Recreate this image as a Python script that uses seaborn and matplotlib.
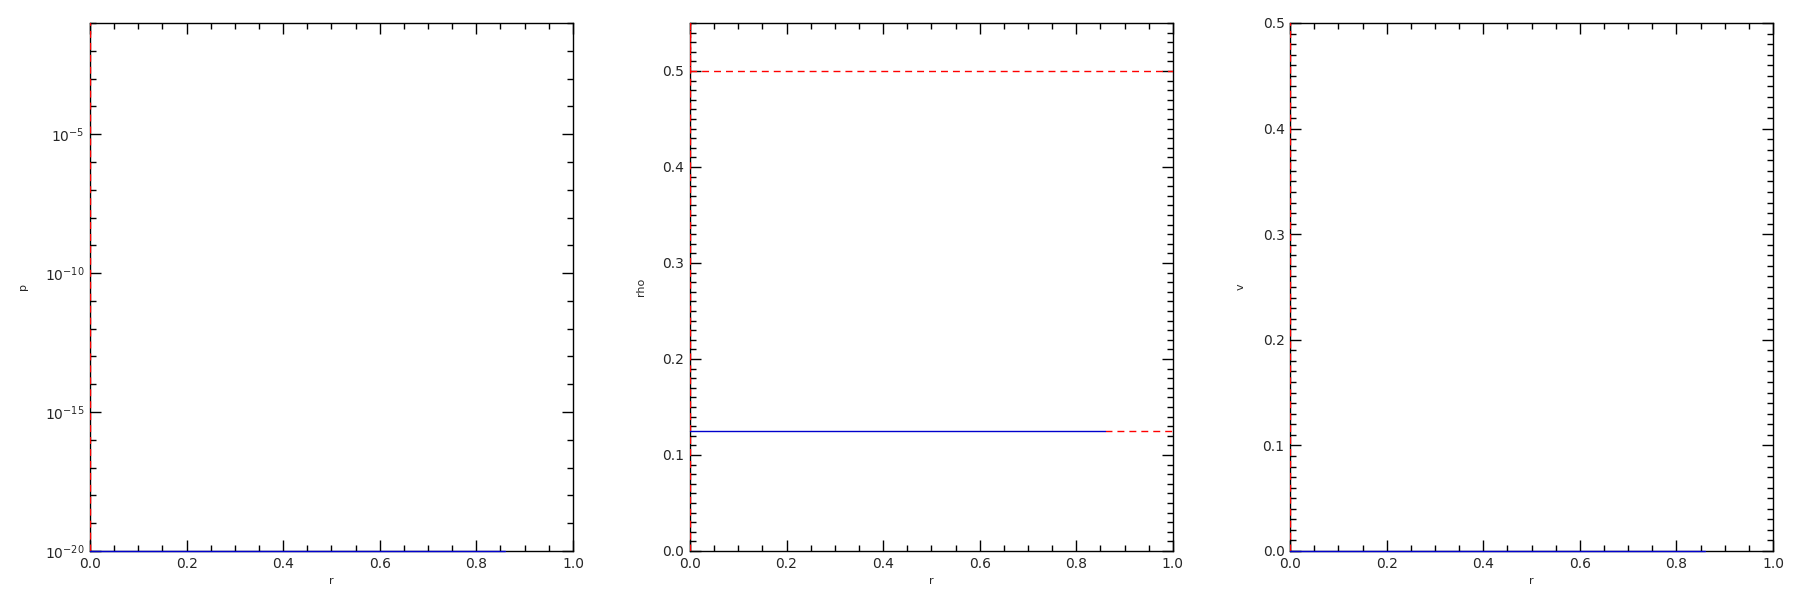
import numpy as np
import pandas as pd
import matplotlib
matplotlib.use("Agg")
import matplotlib.pyplot as plt
from matplotlib.ticker import (MultipleLocator, FixedLocator, FormatStrFormatter,
                               LogFormatterSciNotation, NullFormatter)
import seaborn as sns

# numerical solution (blue) - only the cells up to r ~ 0.86 are filled
r_num = [0.0, 0.86]
p_num = [1e-20, 1e-20]
rho_num = [0.125, 0.125]
v_num = [0.0, 0.0]

# reference solution (red dashed)
r_p_ref = [0.0, 0.0]
p_ref = [1e-20, 1.0]
r_rho_ref = [0.0, 0.0, 0.0, 1.0]
rho_ref = [0.0, 1.0, 0.5, 0.5]
r_rho_amb = [0.86, 1.0]
rho_amb = [0.125, 0.125]
r_v_ref = [0.0, 0.0]
v_ref = [0.0, 1.0]

sns.set_style("ticks")
plt.rcParams['font.family'] = ['DejaVu Sans']
plt.rcParams['mathtext.fontset'] = 'dejavusans'

fig = plt.figure(figsize=(18, 6), dpi=100)
lefts = [0.05, 0.3833, 0.7167]
axes = [fig.add_axes([l, 0.0817, 0.2683, 0.88]) for l in lefts]

red_kw = dict(color='red', lw=1.0, dashes=(5, 3.6), estimator=None, sort=False,
              legend=False, zorder=3)
blue_kw = dict(color='#0000cc', lw=1.0, estimator=None, sort=False, legend=False,
               zorder=4, clip_on=False)


def draw(ax, x, y, **kw):
    df = pd.DataFrame({'x': x, 'y': y})
    sns.lineplot(data=df, x='x', y='y', ax=ax, **kw)


# p
ax = axes[0]
ax.set_yscale('log')
draw(ax, r_p_ref, p_ref, **red_kw)
draw(ax, r_num, p_num, **blue_kw)
ax.set_ylim(1e-20, 1e-1)
ax.yaxis.set_major_locator(FixedLocator([1e-20, 1e-15, 1e-10, 1e-5]))
ax.yaxis.set_minor_locator(FixedLocator([10.0 ** k for k in range(-20, 0)]))
ax.yaxis.set_major_formatter(LogFormatterSciNotation())
ax.yaxis.set_minor_formatter(NullFormatter())
ax.set_ylabel('p')

# rho
ax = axes[1]
draw(ax, r_rho_amb, rho_amb, **red_kw)
draw(ax, r_rho_ref, rho_ref, **red_kw)
draw(ax, r_num, rho_num, **blue_kw)
ax.set_ylim(0, 0.55)
ax.yaxis.set_major_locator(MultipleLocator(0.1))
ax.yaxis.set_minor_locator(MultipleLocator(0.01))
ax.yaxis.set_major_formatter(FormatStrFormatter('%.1f'))
ax.set_ylabel('rho')

# v
ax = axes[2]
draw(ax, r_v_ref, v_ref, **red_kw)
draw(ax, r_num, v_num, **blue_kw)
ax.set_ylim(0, 0.5)
ax.yaxis.set_major_locator(MultipleLocator(0.1))
ax.yaxis.set_minor_locator(MultipleLocator(0.01))
ax.yaxis.set_major_formatter(FormatStrFormatter('%.1f'))
ax.set_ylabel('v')

for ax in axes:
    ax.set_xlim(0, 1)
    ax.xaxis.set_major_locator(MultipleLocator(0.2))
    ax.xaxis.set_minor_locator(MultipleLocator(0.05))
    ax.xaxis.set_major_formatter(FormatStrFormatter('%.1f'))
    ax.set_xlabel('r', fontsize=8, labelpad=4)
    ax.yaxis.label.set_size(8)
    ax.yaxis.labelpad = 12
    ax.tick_params(which='both', direction='in', top=True, right=True,
                   width=1, color='black', labelsize=10, pad=4)
    ax.tick_params(which='major', length=8)
    ax.tick_params(which='minor', length=4)
    for s in ax.spines.values():
        s.set_linewidth(1)
        s.set_color('black')
    ax.grid(False)

fig.savefig('out.png', dpi=100)
